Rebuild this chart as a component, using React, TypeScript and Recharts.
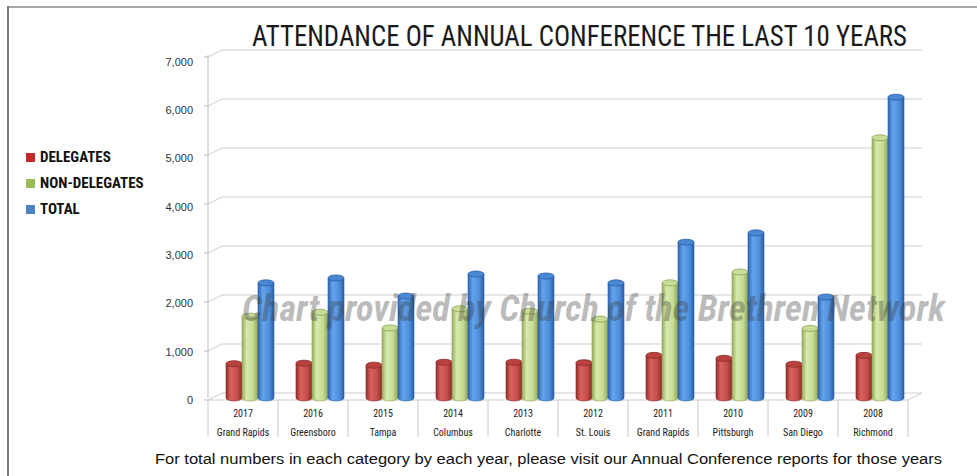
import React from 'react';
import { BarChart, Bar, XAxis, YAxis, CartesianGrid } from 'recharts';

const years = ['2017', '2016', '2015', '2014', '2013', '2012', '2011', '2010', '2009', '2008'];
const cities = [
  'Grand Rapids', 'Greensboro', 'Tampa', 'Columbus', 'Charlotte',
  'St. Louis', 'Grand Rapids', 'Pittsburgh', 'San Diego', 'Richmond',
];
const delegates = [700, 710, 670, 730, 730, 720, 870, 810, 690, 870];
const nonDelegates = [1670, 1750, 1430, 1820, 1770, 1610, 2350, 2570, 1420, 5310];
const totals = [2350, 2450, 2080, 2530, 2490, 2350, 3180, 3370, 2060, 6140];
const yTicks = [0, 1000, 2000, 3000, 4000, 5000, 6000, 7000];

const seriesNames = ['DELEGATES', 'NON-DELEGATES', 'TOTAL'];
const legendColors = ['#c62828', '#9bbb59', '#4f81bd'];

const data = years.map((year, i) => ({
  year,
  city: cities[i],
  delegates: delegates[i],
  nonDelegates: nonDelegates[i],
  total: totals[i],
}));

const narrow = "'Liberation Sans Narrow', 'Roboto Condensed', 'DejaVu Sans Condensed', Arial, sans-serif";
const sans = "'Liberation Sans', Arial, Helvetica, sans-serif";

// 3d look: back wall is offset from the front plane
const DEPTH_X = 14;
const DEPTH_Y = 7;

const tones: Record<string, { top: string; rim: string }> = {
  red: { top: '#b9423e', rim: '#8c2a28' },
  green: { top: '#cadd97', rim: '#8ea356' },
  blue: { top: '#4b88d4', rim: '#2a5fa6' },
};

function Cylinder(props: any) {
  const { x, y, width, height, tone } = props;
  if (!height || height <= 0) return null;
  const bx = x + DEPTH_X / 2;
  const rx = width / 2;
  const ry = 3;
  const body = `M${bx},${y} L${bx},${y + height} A${rx},${ry} 0 0 0 ${bx + width},${y + height} L${bx + width},${y} Z`;
  return (
    <g>
      <path d={body} fill={`url(#grad-${tone})`} stroke={tones[tone].rim} strokeWidth={0.6} />
      <ellipse cx={bx + rx} cy={y} rx={rx} ry={ry} fill={tones[tone].top} stroke={tones[tone].rim} strokeWidth={0.8} />
    </g>
  );
}

function GridLine(props: any) {
  const { x1, x2, y1 } = props;
  const isFloor = y1 > 390;
  return (
    <g>
      <polyline
        points={`${x1},${y1 + 2} ${x1 + DEPTH_X},${y1 + 2 - DEPTH_Y} ${x2 + DEPTH_X},${y1 + 2 - DEPTH_Y}`}
        fill="none"
        stroke="#cdcdcd"
        strokeWidth={1}
      />
      {isFloor && (
        <polyline
          points={`${x1},${y1 + 2} ${x2},${y1 + 2} ${x2 + DEPTH_X},${y1 + 2 - DEPTH_Y}`}
          fill="none"
          stroke="#cdcdcd"
          strokeWidth={1}
        />
      )}
    </g>
  );
}

function YTick(props: any) {
  const { y, payload } = props;
  const shift = 2 + payload.value / 1400;
  return (
    <g>
      <line x1={204} x2={208} y1={y + 2} y2={y + 2} stroke="#bdbdbd" />
      <text x={193} y={y + shift} dy="0.35em" textAnchor="end" fontSize={11} fontFamily={sans} fill="#333">
        {payload.value.toLocaleString('en-US')}
      </text>
    </g>
  );
}

function XTick(props: any) {
  const { x, y, payload, index } = props;
  const half = 35;
  return (
    <g>
      <line x1={x - half} x2={x - half} y1={y + 2} y2={y + 39} stroke="#c8c8c8" />
      {index === years.length - 1 && (
        <line x1={x + half} x2={x + half} y1={y + 2} y2={y + 39} stroke="#c8c8c8" />
      )}
      <text x={x} y={y + 15} dy="0.35em" textAnchor="middle" fontSize={10} fontFamily={narrow} fill="#222">
        {payload.value}
      </text>
      <text x={x} y={y + 34} dy="0.35em" textAnchor="middle" fontSize={10} fontFamily={narrow} fill="#222">
        {cities[index]}
      </text>
    </g>
  );
}

function LegendBox() {
  const tops = [152, 178, 204];
  return (
    <div style={{ position: 'absolute', left: 26, top: 0 }}>
      {seriesNames.map((name, i) => (
        <div key={name} style={{ position: 'absolute', left: 0, top: tops[i], display: 'flex', alignItems: 'center', whiteSpace: 'nowrap' }}>
          <span style={{ width: 9, height: 9, background: legendColors[i], display: 'inline-block', marginRight: 5 }} />
          <span style={{ fontFamily: narrow, fontWeight: 700, fontSize: 15, color: '#111', lineHeight: '11px' }}>{name}</span>
        </div>
      ))}
    </div>
  );
}

export default function App() {
  return (
    <div style={{ position: 'absolute', left: 0, top: 0, width: 977, height: 476, background: '#fff', overflow: 'hidden' }}>
      <BarChart
        width={977}
        height={476}
        data={data}
        margin={{ top: 55, right: 69, bottom: 38, left: 0 }}
        barGap={0}
        barSize={16}
      >
        <defs>
          <linearGradient id="grad-red" x1="0" y1="0" x2="1" y2="0">
            <stop offset="0" stopColor="#922e2b" />
            <stop offset="0.3" stopColor="#d9625e" />
            <stop offset="0.7" stopColor="#c44e4a" />
            <stop offset="1" stopColor="#8c2a28" />
          </linearGradient>
          <linearGradient id="grad-green" x1="0" y1="0" x2="1" y2="0">
            <stop offset="0" stopColor="#97ad5e" />
            <stop offset="0.3" stopColor="#d8e9ad" />
            <stop offset="0.7" stopColor="#c6db92" />
            <stop offset="1" stopColor="#8ea356" />
          </linearGradient>
          <linearGradient id="grad-blue" x1="0" y1="0" x2="1" y2="0">
            <stop offset="0" stopColor="#2e66b0" />
            <stop offset="0.3" stopColor="#64a3ec" />
            <stop offset="0.7" stopColor="#4e8fdc" />
            <stop offset="1" stopColor="#2a5fa6" />
          </linearGradient>
        </defs>
        <CartesianGrid vertical={false} horizontal={(p: any) => <GridLine key={p.key} {...p} />} />
        <XAxis
          dataKey="year"
          height={40}
          tickSize={0}
          tickMargin={0}
          axisLine={false}
          tickLine={false}
          interval={0}
          tick={(p: any) => <XTick key={p.index} {...p} />}
        />
        <YAxis
          width={208}
          domain={[0, 7000]}
          ticks={yTicks}
          tickSize={0}
          tickMargin={0}
          tickLine={false}
          axisLine={{ stroke: '#bdbdbd' }}
          tick={(p: any) => <YTick key={p.index} {...p} />}
        />
        <Bar dataKey="delegates" name="DELEGATES" isAnimationActive={false} shape={(p: any) => <Cylinder {...p} tone="red" />} />
        <Bar dataKey="nonDelegates" name="NON-DELEGATES" isAnimationActive={false} shape={(p: any) => <Cylinder {...p} tone="green" />} />
        <Bar dataKey="total" name="TOTAL" isAnimationActive={false} shape={(p: any) => <Cylinder {...p} tone="blue" />} />
      </BarChart>

      <LegendBox />

      <svg width={977} height={476} style={{ position: 'absolute', left: 0, top: 0, pointerEvents: 'none' }}>
        <line x1={7} y1={7} x2={977} y2={7} stroke="#a6acaa" strokeWidth={2} />
        <line x1={8} y1={6} x2={8} y2={476} stroke="#727c78" strokeWidth={2} />
        <text x={252} y={46} fontSize={29} fontFamily={narrow} fill="#1a1a1a" textLength={655} lengthAdjust="spacingAndGlyphs">
          ATTENDANCE OF ANNUAL CONFERENCE THE LAST 10 YEARS
        </text>
        <text
          x={242}
          y={321}
          fontSize={36}
          fontWeight={700}
          fontStyle="italic"
          fontFamily={narrow}
          fill="rgba(60,60,60,0.35)"
          textLength={703}
          lengthAdjust="spacingAndGlyphs"
        >
          Chart provided by Church of the Brethren Network
        </text>
        <text x={155} y={464} fontSize={14} fontFamily={sans} fill="#111" textLength={787} lengthAdjust="spacingAndGlyphs">
          For total numbers in each category by each year, please visit our Annual Conference reports for those years
        </text>
      </svg>
    </div>
  );
}
